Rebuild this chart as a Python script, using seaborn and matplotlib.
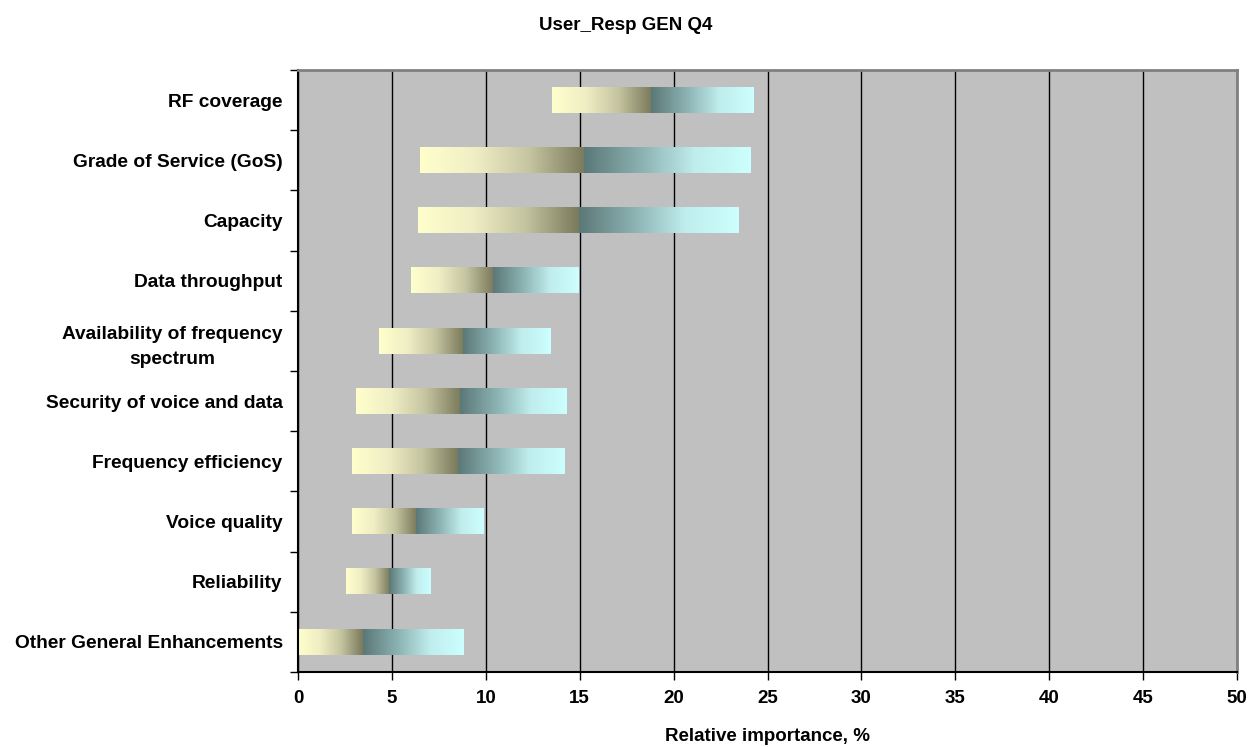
import numpy as np
import pandas as pd
import matplotlib
matplotlib.use("Agg")
import matplotlib.pyplot as plt
import seaborn as sns
from matplotlib.colors import LinearSegmentedColormap
from matplotlib.ticker import MultipleLocator, FixedLocator

categories = ["RF coverage", "Grade of Service (GoS)", "Capacity", "Data throughput",
              "Availability of frequency\nspectrum", "Security of voice and data",
              "Frequency efficiency", "Voice quality", "Reliability",
              "Other General Enhancements"]
low = [13.5, 6.5, 6.4, 6.0, 4.3, 3.1, 2.9, 2.85, 2.55, 0.0]
mid = [18.8, 15.25, 14.95, 10.4, 8.8, 8.65, 8.5, 6.3, 4.85, 3.45]
high = [24.25, 24.1, 23.45, 14.95, 13.45, 14.3, 14.15, 9.9, 7.05, 8.8]

title = "User_Resp GEN Q4"
xlabel = "Relative importance, %"

df = pd.DataFrame({"category": categories, "low": low, "mid": mid, "high": high})

sns.set_style("white")
plt.rcParams["font.family"] = ["Liberation Sans", "DejaVu Sans"]
plt.rcParams["font.weight"] = "bold"
plt.rcParams["text.color"] = "black"
plt.rcParams["axes.labelcolor"] = "black"
plt.rcParams["xtick.color"] = "black"
plt.rcParams["ytick.color"] = "black"

fig = plt.figure(figsize=(12.52, 7.47), dpi=100)
ax = fig.add_axes([298 / 1252, 1 - 672 / 747, (1237 - 298) / 1252, (672 - 70) / 747])
ax.set_facecolor("#C0C0C0")

# seaborn lays out the categorical axis; bars are transparent placeholders
sns.barplot(data=df, x="high", y="category", orient="h", width=0.42,
            facecolor="none", edgecolor="none", ax=ax)

cm_left = LinearSegmentedColormap.from_list("l", ["#FFFFCC", "#F0EEC4", "#C4C4A0", "#7A7A5C"])
cm_right = LinearSegmentedColormap.from_list("r", ["#5C7878", "#8AB0B0", "#C0EDED", "#CCFFFF"])
grad = np.linspace(0, 1, 256).reshape(1, -1)

for p, lo, mi, hi in zip(ax.patches, df["low"], df["mid"], df["high"]):
    y0 = p.get_y()
    h = p.get_height()
    ax.imshow(grad, cmap=cm_left, extent=[lo, mi, y0 + h, y0], aspect="auto",
              interpolation="bilinear", zorder=2)
    ax.imshow(grad, cmap=cm_right, extent=[mi, hi, y0 + h, y0], aspect="auto",
              interpolation="bilinear", zorder=2)

ax.set_xlim(0, 50)
ax.set_ylim(len(categories) - 0.5, -0.5)
ax.xaxis.set_major_locator(MultipleLocator(5))
ax.set_axisbelow(True)
ax.grid(axis="x", color="black", lw=1)
ax.grid(axis="y", visible=False)

ax.yaxis.set_minor_locator(FixedLocator(np.arange(-0.5, len(categories), 1.0)))
ax.tick_params(axis="y", which="major", length=0, pad=11, labelsize=13.8, labelcolor="black")
ax.tick_params(axis="y", which="minor", length=6, width=1, color="black", left=True)
ax.tick_params(axis="x", which="major", length=6, width=1, color="black", bottom=True,
               labelsize=13.5, pad=7, labelcolor="black")
for t in ax.get_yticklabels():
    t.set_multialignment("center")
    t.set_linespacing(1.6)
    t.set_fontweight("bold")
for t in ax.get_xticklabels():
    t.set_fontweight("bold")

for s in ["left", "bottom"]:
    ax.spines[s].set_color("black")
    ax.spines[s].set_linewidth(1.5)
for s in ["top", "right"]:
    ax.spines[s].set_visible(True)
    ax.spines[s].set_color("#808080")
    ax.spines[s].set_linewidth(2)

ax.set_ylabel("")
ax.set_xlabel(xlabel, fontsize=13.5, fontweight="bold", labelpad=15, color="black")
fig.text(0.5, 1 - 25 / 747, title, ha="center", va="center", fontsize=13.5,
         fontweight="bold", color="black")

fig.savefig("out.png", dpi=100, facecolor="white")
